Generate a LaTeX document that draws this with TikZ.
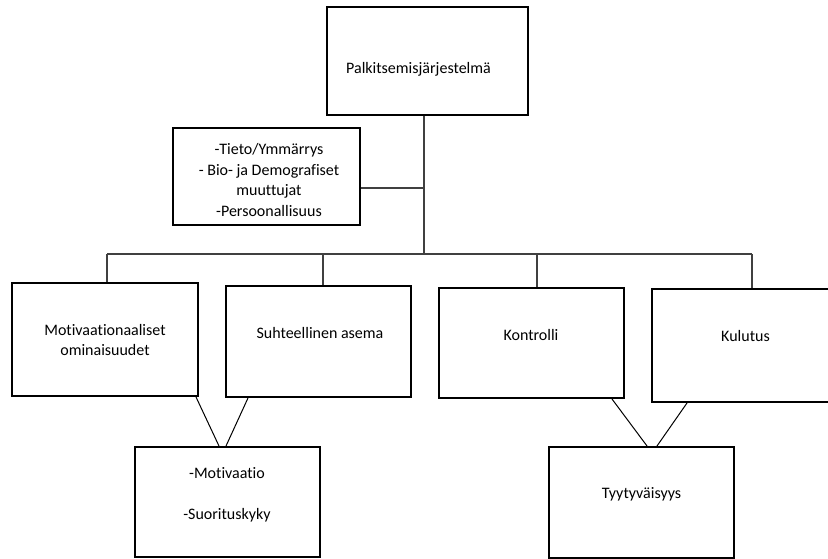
\documentclass[tikz,border=0pt]{standalone}
\usepackage{fontspec}
\setmainfont{Carlito}[Ligatures=NoCommon]
\usetikzlibrary{positioning,calc}

\begin{document}
\begin{tikzpicture}[x=1pt, y=-1pt, line join=miter,
    box/.style={draw=black, line width=2pt, rectangle, inner sep=0pt},
    txt/.style={font=\fontsize{16}{20.5}\selectfont, align=center, inner sep=0pt},
    tree/.style={draw=black!75, line width=1.2pt},
    link/.style={draw=black, line width=1pt}]
   \useasboundingbox (0,0) rectangle (828,559);
   \begin{scope}[every node/.style={box}]
    \node[minimum width=201, minimum height=108] (pj) at (427.5,61) {};
    \node[minimum width=187, minimum height=97] (tieto) at (266.5,176.5) {};
    \node[minimum width=186, minimum height=113] (mot) at (105,339.5) {};
    \node[minimum width=185, minimum height=111] (suh) at (318.5,341.5) {};
    \node[minimum width=185, minimum height=110] (kon) at (531.5,343) {};
    \node[minimum width=184, minimum height=113] (kul) at (744,345.5) {};
    \node[minimum width=185, minimum height=110] (moti) at (227.5,502) {};
    \node[minimum width=185, minimum height=111] (tyy) at (641.5,502.5) {};
   \end{scope}
   \begin{scope}[every node/.style={txt}]
    \node (pjT) at (418.5,69) {Palkitsemisjärjestelmä};
    \node (tietoT) at (269,180) {-Tieto/Ymmärrys\\- Bio- ja Demografiset\\muuttujat\\-Persoonallisuus};
    \node (motT) at (105,340) {Motivaationaaliset\\ominaisuudet};
    \node (suhT) at (320,333) {Suhteellinen asema};
    \node (konT) at (531,335) {Kontrolli};
    \node (kulT) at (745.5,336) {Kulutus};
    \node (motiT) at (227,494.5) {-Motivaatio\\[20.5pt]-Suorituskyky};
    \node (tyyT) at (641.5,494) {Tyytyväisyys};
   \end{scope}
   % tree
   \coordinate (busL) at (107,254);
   \coordinate (busR) at (752,254);
   \coordinate (trunk) at (424,188);
   \draw[tree] (busL) -- (busR);
   \draw[tree] (pj.south -| trunk) -- (trunk |- busL);
   \draw[tree] (tieto.east |- trunk) -- (trunk);
   \draw[tree] (mot.north -| busL) -- (busL);
   \draw[tree] ([xshift=4.5pt]suh.north) -- ([xshift=4.5pt]suh.north |- busL);
   \draw[tree] ([xshift=5.5pt]kon.north) -- ([xshift=5.5pt]kon.north |- busL);
   \draw[tree] (kul.north -| busR) -- (busR);
   % links to the lower boxes
   \draw[link] ([xshift=-3pt]mot.south east) -- ([xshift=-8.5pt]moti.north);
   \draw[link] ([xshift=23pt]suh.south west) -- ([xshift=-1.5pt]moti.north);
   \draw[link] ([xshift=-13pt]kon.south east) -- ([xshift=5.5pt]tyy.north);
   \draw[link] ([xshift=36pt]kul.south west) -- ([xshift=15.5pt]tyy.north);
\end{tikzpicture}
\end{document}
